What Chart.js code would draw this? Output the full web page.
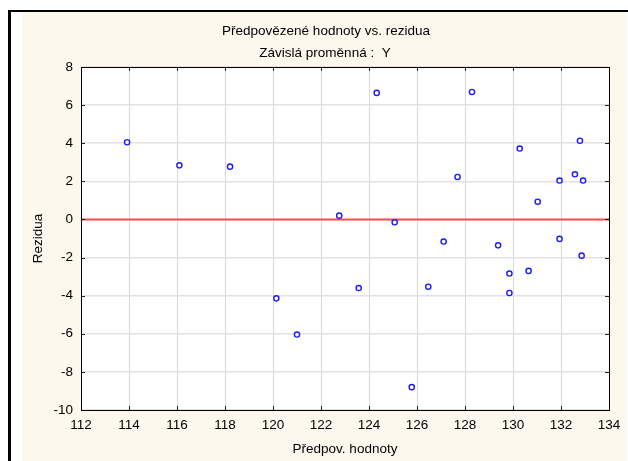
<!DOCTYPE html>
<html>
<head>
<meta charset="utf-8">
<script src="https://cdn.jsdelivr.net/npm/chart.js@4.4.1/dist/chart.umd.min.js"></script>
<style>
  html, body { margin: 0; padding: 0; background: #ffffff; }
  #wrap { width: 628px; height: 461px; }
</style>
</head>
<body>
<div id="wrap"><canvas id="myChart" width="628" height="461"></canvas></div>
<script>
var TITLE_LINES = ["Předpovězené hodnoty vs. rezidua", "Závislá proměnná :  Y"];
var X_TITLE = "Předpov. hodnoty";
var Y_TITLE = "Rezidua";

var X_TICKS = [112, 114, 116, 118, 120, 122, 124, 126, 128, 130, 132, 134];
var Y_TICKS = [-10, -8, -6, -4, -2, 0, 2, 4, 6, 8];

// predicted values (x) and residuals (y)
var predicted = [
  113.92, 116.10, 118.21, 122.76, 120.14, 121.00, 123.57, 124.32, 125.07,
  128.29, 127.69, 127.11, 129.38, 130.28, 131.03, 131.94, 131.94, 132.58,
  132.79, 132.92, 132.86, 126.47, 125.78, 129.85, 129.85, 130.65
];
var residuals = [
  4.05, 2.84, 2.77, 0.20, -4.14, -6.04, -3.60, 6.64, -0.15,
  6.69, 2.23, -1.16, -1.36, 3.72, 0.93, 2.04, -1.02, 2.37,
  4.13, 2.04, -1.90, -3.53, -8.80, -2.84, -3.86, -2.70
];

var FONT = "Arial, 'Liberation Sans', sans-serif";
var CREAM = "#fdf8ee";

var points = predicted.map((x, i) => ({ x: x, y: residuals[i] }));

var framePlugin = {
  id: "frame",
  beforeDraw: function (chart) {
    var ctx = chart.ctx;
    var a = chart.chartArea;
    ctx.save();
    ctx.fillStyle = "#ffffff";
    ctx.fillRect(0, 0, chart.width, chart.height);
    ctx.fillStyle = CREAM;
    ctx.fillRect(22, 12, 605, chart.height - 12);
    ctx.fillStyle = "#000000";
    ctx.fillRect(8, 10, chart.width - 8, 2);
    ctx.fillRect(8, 10, 3, chart.height - 10);
    ctx.fillStyle = "#ffffff";
    ctx.fillRect(a.left, a.top, a.right - a.left, a.bottom - a.top);
    ctx.restore();
  },
  beforeDatasetsDraw: function (chart) {
    var ctx = chart.ctx;
    var a = chart.chartArea;
    var y0 = chart.scales.y.getPixelForValue(0);
    ctx.save();
    ctx.strokeStyle = "#ff4a4a";
    ctx.lineWidth = 2;
    ctx.beginPath();
    ctx.moveTo(a.left, y0);
    ctx.lineTo(a.right, y0);
    ctx.stroke();
    ctx.restore();
  },
  afterDatasetsDraw: function (chart) {
    var ctx = chart.ctx;
    var a = chart.chartArea;
    var xs = chart.scales.x;
    var ys = chart.scales.y;
    var t = 4;
    ctx.save();
    ctx.strokeStyle = "#222222";
    ctx.lineWidth = 1;
    ctx.beginPath();
    X_TICKS.forEach(function (v) {
      var px = Math.round(xs.getPixelForValue(v)) + 0.5;
      ctx.moveTo(px, a.top);
      ctx.lineTo(px, a.top + t);
      ctx.moveTo(px, a.bottom);
      ctx.lineTo(px, a.bottom - t);
    });
    Y_TICKS.forEach(function (v) {
      var py = Math.round(ys.getPixelForValue(v)) + 0.5;
      ctx.moveTo(a.left, py);
      ctx.lineTo(a.left + t, py);
      ctx.moveTo(a.right, py);
      ctx.lineTo(a.right - t, py);
    });
    ctx.stroke();
    ctx.strokeStyle = "#000000";
    ctx.strokeRect(Math.round(a.left) + 0.5, Math.round(a.top) + 0.5,
      Math.round(a.right - a.left), Math.round(a.bottom - a.top));
    ctx.restore();
  },
  afterDraw: function (chart) {
    var ctx = chart.ctx;
    ctx.save();
    ctx.fillStyle = "#000000";
    ctx.font = "13.5px " + FONT;
    ctx.textAlign = "center";
    ctx.textBaseline = "middle";
    ctx.fillText(TITLE_LINES[0], 326, 31);
    ctx.fillText(TITLE_LINES[1], 325, 53);
    ctx.restore();
  },
};

var ctx2 = document.getElementById("myChart");

var myChart = new Chart(ctx2, {
  type: "scatter",
  data: {
    datasets: [
      {
        label: "Rezidua",
        data: points,
        pointStyle: "circle",
        pointRadius: 2.6,
        pointHoverRadius: 2.6,
        borderWidth: 1.4,
        borderColor: "#1a1aff",
        backgroundColor: "#ffffff",
      },
    ],
  },
  options: {
    responsive: false,
    animation: false,
    devicePixelRatio: 1,
    layout: { padding: { top: 67, left: 0, right: 19, bottom: 0 } },
    plugins: {
      legend: { display: false },
      title: { display: false },
      tooltip: { enabled: false },
    },
    scales: {
      x: {
        type: "linear",
        min: 112,
        max: 134,
        afterBuildTicks: function (scale) {
          scale.ticks = X_TICKS.map((v) => ({ value: v }));
        },
        afterFit: function (scale) {
          scale.height = 51;
        },
        grid: { color: "#d9d9d9", drawTicks: false },
        border: { display: false },
        ticks: {
          padding: 7,
          color: "#000000",
          font: { family: FONT, size: 13.5 },
        },
        title: {
          display: true,
          text: X_TITLE,
          color: "#000000",
          font: { family: FONT, size: 13.5 },
          padding: { top: 0, bottom: 4 },
        },
      },
      y: {
        type: "linear",
        min: -10,
        max: 8,
        afterBuildTicks: function (scale) {
          scale.ticks = Y_TICKS.map((v) => ({ value: v }));
        },
        afterFit: function (scale) {
          scale.width = 81;
        },
        grid: { color: "#e2e2e2", lineWidth: 1.5, drawTicks: false },
        border: { display: false },
        ticks: {
          padding: 8,
          color: "#000000",
          font: { family: FONT, size: 13.5 },
        },
        title: {
          display: true,
          text: Y_TITLE,
          color: "#000000",
          font: { family: FONT, size: 13.5 },
          padding: { top: 30, bottom: 0 },
        },
      },
    },
  },
  plugins: [framePlugin],
});
</script>
</body>
</html>
